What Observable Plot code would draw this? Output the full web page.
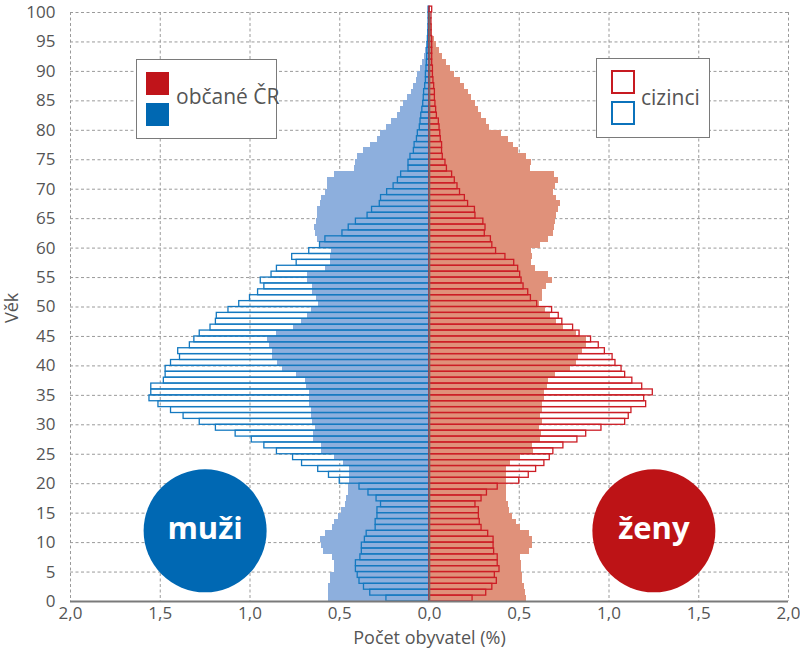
<!DOCTYPE html>
<html><head><meta charset="utf-8">
<script src="https://cdn.jsdelivr.net/npm/d3@7"></script>
<script src="https://cdn.jsdelivr.net/npm/@observablehq/plot@0.6"></script>
<style>
body{margin:0;background:#fff;font-family:"Open Sans",sans-serif;}
#wrap{position:relative;width:800px;height:653px;overflow:hidden;}
.leg{position:absolute;background:#fff;border:1.5px solid #7a7a7a;box-sizing:border-box;}
.sw{position:absolute;box-sizing:border-box;}
.lt{position:absolute;font-size:21px;color:#555;line-height:24px;white-space:nowrap;}
</style></head><body><div id="wrap"></div>
<script>
const ages = d3.range(0, 101);
// % of population, ages 0..100
const menCZ = [
0.56,0.56,0.56,0.55,0.55,0.53,0.53,0.54,0.59,0.60,
0.61,0.58,0.54,0.53,0.505,0.49,0.47,0.46,0.45,0.45,
0.445,0.445,0.445,0.48,0.53,0.60,0.60,0.645,0.645,0.635,
0.65,0.66,0.66,0.67,0.67,0.67,0.685,0.69,0.74,0.82,
0.845,0.876,0.876,0.89,0.90,0.85,0.76,0.715,0.68,0.66,
0.62,0.63,0.65,0.65,0.68,0.68,0.58,0.55,0.55,0.545,
0.61,0.625,0.635,0.64,0.63,0.625,0.625,0.61,0.60,0.58,
0.57,0.57,0.53,0.42,0.415,0.40,0.37,0.33,0.29,0.275,
0.24,0.21,0.18,0.16,0.145,0.12,0.10,0.087,0.072,0.065,
0.048,0.04,0.03,0.022,0.015,0.01,0.007,0.005,0.004,0.003,0.003];
const menFor = [
0.24,0.33,0.365,0.39,0.40,0.41,0.41,0.385,0.377,0.377,
0.36,0.35,0.30,0.30,0.29,0.29,0.27,0.295,0.34,0.39,
0.50,0.56,0.62,0.71,0.76,0.85,0.92,0.99,1.08,1.19,
1.28,1.37,1.44,1.51,1.56,1.55,1.55,1.48,1.47,1.47,
1.44,1.39,1.40,1.335,1.31,1.28,1.22,1.19,1.185,1.12,
1.06,1.0,0.955,0.92,0.94,0.88,0.85,0.74,0.765,0.67,
0.61,0.58,0.485,0.45,0.41,0.345,0.32,0.277,0.27,0.236,
0.20,0.176,0.158,0.117,0.117,0.106,0.087,0.083,0.07,0.065,
0.054,0.05,0.046,0.04,0.035,0.032,0.03,0.024,0.02,0.02,
0.017,0.015,0.013,0.012,0.01,0.009,0.007,0.006,0.005,0.005,0.005];
const womenCZ = [
0.54,0.535,0.53,0.52,0.52,0.51,0.51,0.505,0.557,0.572,
0.575,0.557,0.505,0.487,0.46,0.446,0.438,0.43,0.427,0.427,
0.427,0.43,0.43,0.453,0.505,0.58,0.576,0.617,0.624,0.613,
0.631,0.617,0.631,0.628,0.643,0.643,0.66,0.665,0.70,0.787,
0.817,0.832,0.85,0.873,0.873,0.817,0.746,0.706,0.676,0.646,
0.615,0.63,0.63,0.654,0.683,0.665,0.59,0.568,0.576,0.568,
0.617,0.665,0.69,0.698,0.70,0.706,0.717,0.728,0.71,0.69,
0.70,0.72,0.695,0.56,0.568,0.54,0.494,0.47,0.44,0.40,
0.334,0.32,0.29,0.275,0.256,0.234,0.22,0.193,0.17,0.141,
0.119,0.093,0.074,0.056,0.041,0.03,0.019,0.015,0.01,0.007,0.005];
const womenFor = [
0.24,0.316,0.35,0.375,0.364,0.39,0.38,0.38,0.36,0.357,
0.357,0.327,0.29,0.28,0.275,0.275,0.256,0.29,0.32,0.38,
0.50,0.553,0.594,0.64,0.67,0.69,0.746,0.824,0.873,0.958,
1.09,1.11,1.125,1.207,1.196,1.244,1.185,1.13,1.09,1.07,
1.036,1.02,0.977,0.943,0.90,0.836,0.80,0.74,0.72,0.683,
0.60,0.565,0.55,0.524,0.513,0.505,0.494,0.472,0.423,0.371,
0.35,0.342,0.308,0.312,0.30,0.256,0.253,0.215,0.197,0.17,
0.156,0.141,0.126,0.097,0.089,0.074,0.07,0.07,0.063,0.06,
0.056,0.052,0.041,0.037,0.033,0.03,0.03,0.026,0.022,0.019,
0.019,0.015,0.015,0.015,0.015,0.015,0.011,0.011,0.011,0.011,0.015];
const xTicks = [-2, -1.5, -1, -0.5, 0, 0.5, 1, 1.5, 2];
const yTicks = d3.range(0, 101, 5);
const sexLabels = [{x: -1.25, y: 12, t: "muži"}, {x: 1.25, y: 12, t: "ženy"}];
const legendCZ = "občané ČR";
const legendFor = "cizinci";
const xTitle = "Počet obyvatel (%)";
const yTitle = "Věk";

const rows = ages.map((a, i) => ({age: a, mCZ: menCZ[i], mF: menFor[i], wCZ: womenCZ[i], wF: womenFor[i]}));
const fmt = d => Math.abs(d).toFixed(1).replace(".", ",");

const chart = Plot.plot({
  width: 800, height: 653,
  marginLeft: 70, marginRight: 12, marginTop: 12, marginBottom: 52,
  style: {fontFamily: "'Open Sans', sans-serif", fontSize: "17px", color: "#555", background: "white", overflow: "visible"},
  x: {domain: [-2, 2]},
  y: {domain: [0, 100]},
  marks: [
    Plot.gridX(xTicks, {stroke: "#9a9a9a", strokeOpacity: 1, strokeDasharray: "3,2.5"}),
    Plot.gridY(yTicks, {stroke: "#9a9a9a", strokeOpacity: 1, strokeDasharray: "3,2.5"}),
    Plot.rect(rows, {x1: 0, x2: d => -d.mCZ, y1: "age", y2: d => d.age + 1, fill: "#8dafdd", shapeRendering: "crispEdges", clip: false}),
    Plot.rect(rows, {x1: 0, x2: "wCZ", y1: "age", y2: d => d.age + 1, fill: "#e0917a", shapeRendering: "crispEdges", clip: false}),
    Plot.rect(rows, {x1: 0, x2: d => -d.mF, y1: "age", y2: d => d.age + 1, fill: "none", stroke: "#1479c0", strokeWidth: 1.3}),
    Plot.rect(rows, {x1: 0, x2: "wF", y1: "age", y2: d => d.age + 1, fill: "none", stroke: "#cc1d25", strokeWidth: 1.3}),
    Plot.ruleX([0], {y1: 0, y2: 100, stroke: "#746a68", strokeWidth: 1.6}),
    Plot.ruleY([0], {stroke: "#7a7a7a", strokeWidth: 2}),
    Plot.axisY(yTicks, {tickSize: 0, tickPadding: 15, label: null, fill: "#555"}),
    Plot.axisX(xTicks, {tickSize: 0, tickPadding: 5, tickFormat: fmt, label: null, fill: "#555"}),
    Plot.text([xTitle], {frameAnchor: "bottom", dy: 42, fill: "#555", fontSize: 18}),
    Plot.text([yTitle], {frameAnchor: "left", dx: -58, dy: 16, rotate: -90, fill: "#555", fontSize: 18}),
    Plot.dot([sexLabels[0]], {x: "x", y: "y", r: 61.5, fill: "#0068b3"}),
    Plot.dot([sexLabels[1]], {x: "x", y: "y", r: 61.5, fill: "#bd1316"}),
    Plot.text(sexLabels, {x: "x", y: "y", text: "t", fill: "white", fontSize: 31, fontWeight: "bold", dy: -2})
  ]
});
const wrap = document.getElementById("wrap");
wrap.appendChild(chart);

function add(cls, css, text) {
  const el = document.createElement("div");
  el.className = cls;
  Object.assign(el.style, css);
  if (text) el.textContent = text;
  wrap.appendChild(el);
}
// legend: Czech citizens
add("leg", {left: "136px", top: "59px", width: "141px", height: "80px"});
add("sw", {left: "146px", top: "72px", width: "23px", height: "23px", background: "#c0141a"});
add("sw", {left: "146px", top: "103px", width: "23px", height: "23px", background: "#0068b2"});
add("lt", {left: "176px", top: "84px"}, legendCZ);
// legend: foreigners
add("leg", {left: "596px", top: "58px", width: "114px", height: "80px"});
add("sw", {left: "611px", top: "70px", width: "24px", height: "24px", border: "2.5px solid #c71a21"});
add("sw", {left: "611px", top: "101px", width: "24px", height: "24px", border: "2.5px solid #0b72bb"});
add("lt", {left: "641px", top: "85px"}, legendFor);
</script></body></html>
